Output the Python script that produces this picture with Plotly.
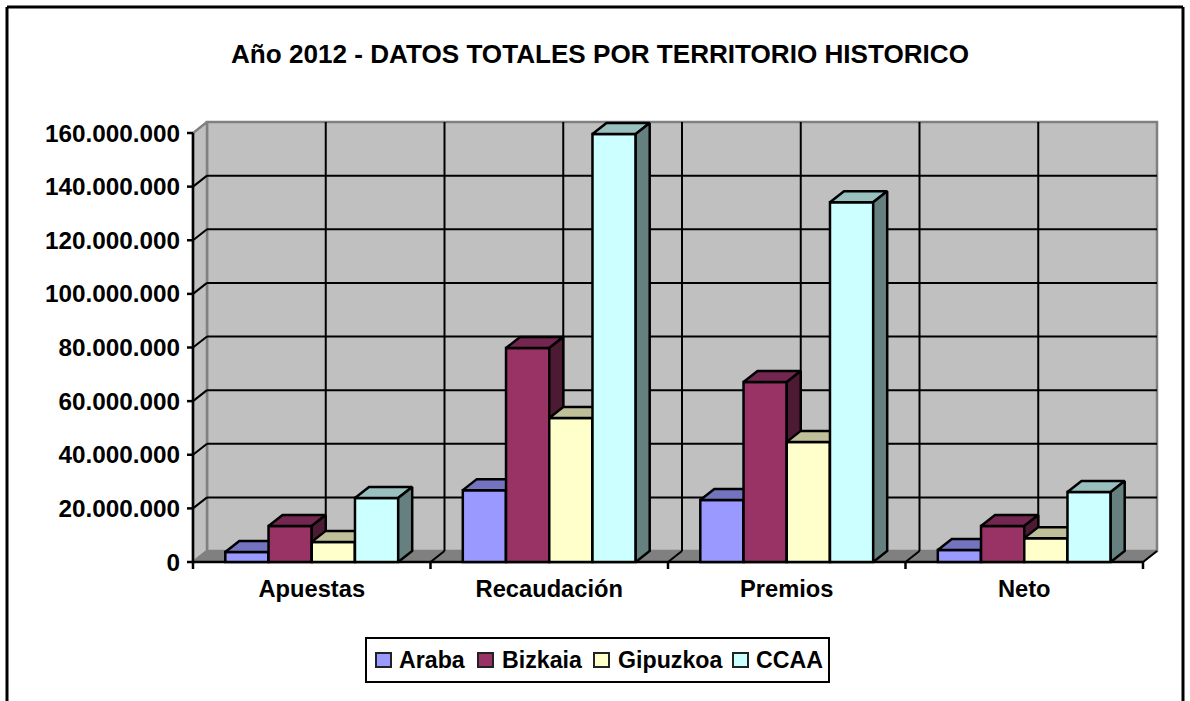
"""Año 2012 - datos totales por territorio historico (barras con efecto 3D)."""

import numpy as np
import plotly.graph_objects as go

categories = ["Apuestas", "Recaudación", "Premios", "Neto"]
series_names = ["Araba", "Bizkaia", "Gipuzkoa", "CCAA"]

araba = [3700000, 26800000, 23100000, 4500000]
bizkaia = [13400000, 79800000, 67100000, 13400000]
gipuzkoa = [7500000, 53700000, 44800000, 8900000]
ccaa = [23900000, 159600000, 134200000, 26100000]

y_ticks = [0, 20000000, 40000000, 60000000, 80000000, 100000000, 120000000, 140000000, 160000000]

series_values = [araba, bizkaia, gipuzkoa, ccaa]

# front, top, side
colors = [
    ("#9999FF", "#7373BF", "#4D4D80"),
    ("#993366", "#732650", "#4D1A33"),
    ("#FFFFCC", "#BFBF99", "#808066"),
    ("#CCFFFF", "#99BFBF", "#668080"),
]

W, H = 1190, 701
FONT = "Liberation Sans"
# plano frontal en pixeles
LEFT, RIGHT, TOP, BOTTOM = 193, 1143, 133, 562
# area de dibujo completa, con sitio para la profundidad y las marcas
AREA_L, AREA_R, AREA_T, AREA_B = 186, 1165, 115, 571
Y_MAX = 160000000
N = len(categories)
CAT_PX = (RIGHT - LEFT) / N
VAL_PX = (BOTTOM - TOP) / Y_MAX
DX = 14 / CAT_PX
DY = 11 / VAL_PX
TICK_X = 6 / CAT_PX
TICK_Y = 7 / VAL_PX
BAR_W = 0.182
centers = np.arange(N) + 0.5

x_range = [(AREA_L - LEFT) / CAT_PX, (AREA_R - LEFT) / CAT_PX]
y_range = [(BOTTOM - AREA_B) / VAL_PX, (BOTTOM - AREA_T) / VAL_PX]


def px(x):
    return x / W


def py(y):
    return 1 - y / H


def poly(points, fill, line="black", width=2.5, xaxis="x", yaxis="y"):
    xs = [p[0] for p in points] + [points[0][0]]
    ys = [p[1] for p in points] + [points[0][1]]
    return go.Scatter(
        x=xs,
        y=ys,
        mode="lines",
        fill="toself",
        fillcolor=fill,
        line=dict(color=line, width=width),
        showlegend=False,
        hoverinfo="skip",
        xaxis=xaxis,
        yaxis=yaxis,
    )


def lines(segments, color="black", width=2):
    xs, ys = [], []
    for (x0, y0), (x1, y1) in segments:
        xs += [x0, x1, None]
        ys += [y0, y1, None]
    return go.Scatter(
        x=xs,
        y=ys,
        mode="lines",
        line=dict(color=color, width=width),
        showlegend=False,
        hoverinfo="skip",
    )


fig = go.Figure()

# paredes y suelo
fig.add_trace(poly([(DX, DY), (N + DX, DY), (N + DX, Y_MAX + DY), (DX, Y_MAX + DY)], "#C0C0C0", "#808080", 2.5))
fig.add_trace(poly([(0, 0), (DX, DY), (DX, Y_MAX + DY), (0, Y_MAX)], "#C0C0C0", "#808080", 2.5))
fig.add_trace(poly([(0, 0), (N, 0), (N + DX, DY), (DX, DY)], "#808080", "#808080", 2))

grid = [((DX, v + DY), (N + DX, v + DY)) for v in y_ticks[1:-1]]
grid += [((k / 2 + DX, DY), (k / 2 + DX, Y_MAX + DY)) for k in range(1, 2 * N)]
grid += [((0, v), (DX, v + DY)) for v in y_ticks[1:-1]]
grid += [((k, 0), (k + DX, DY)) for k in range(1, N + 1)]
fig.add_trace(lines(grid))

# ejes con sus marcas
axis_marks = [((0, 0), (0, Y_MAX)), ((0, 0), (N, 0))]
axis_marks += [((-TICK_X, v), (0, v)) for v in y_ticks]
axis_marks += [((k, 0), (k, -TICK_Y)) for k in range(N + 1)]
fig.add_trace(lines(axis_marks, width=2.5))

# una pareja de ejes por serie para pintar de izquierda a derecha
for i, (name, values, (front, top, side)) in enumerate(zip(series_names, series_values, colors)):
    ax = str(i + 2)
    offset = (i - 2) * BAR_W
    fig.add_trace(
        go.Bar(
            x=centers,
            y=values,
            name=name,
            width=BAR_W,
            offset=offset,
            marker=dict(color=front, line=dict(color="black", width=2.5)),
            showlegend=False,
            xaxis="x" + ax,
            yaxis="y" + ax,
        )
    )
    for c, v in zip(centers, values):
        x0, x1 = c + offset, c + offset + BAR_W
        fig.add_trace(
            poly([(x0, v), (x1, v), (x1 + DX, v + DY), (x0 + DX, v + DY)], top, xaxis="x" + ax, yaxis="y" + ax)
        )
        fig.add_trace(
            poly([(x1, 0), (x1 + DX, DY), (x1 + DX, v + DY), (x1, v)], side, xaxis="x" + ax, yaxis="y" + ax)
        )

domain_x = [px(AREA_L), px(AREA_R)]
domain_y = [py(AREA_B), py(AREA_T)]

fig.update_layout(
    width=W,
    height=H,
    margin=dict(l=0, r=0, t=0, b=0),
    paper_bgcolor="white",
    plot_bgcolor="rgba(0,0,0,0)",
    separators=",.",
    font=dict(family=FONT, color="black"),
    showlegend=False,
    title=dict(
        text="Año 2012 - DATOS TOTALES POR TERRITORIO HISTORICO",
        x=px(600),
        xanchor="center",
        y=py(54),
        yanchor="middle",
        font=dict(family=FONT, size=26.1, weight="bold", color="black"),
    ),
    xaxis=dict(
        domain=domain_x,
        range=x_range,
        tickmode="array",
        tickvals=centers,
        ticktext=categories,
        ticks="",
        showgrid=False,
        zeroline=False,
        showline=False,
        automargin=False,
        ticklabelstandoff=1,
        tickfont=dict(family=FONT, size=23.7, weight="bold", color="black"),
    ),
    yaxis=dict(
        domain=domain_y,
        range=y_range,
        tickmode="array",
        tickvals=y_ticks,
        tickformat=",d",
        ticks="",
        showgrid=False,
        zeroline=False,
        showline=False,
        automargin=False,
        ticklabelstandoff=5,
        tickfont=dict(family=FONT, size=24.3, weight="bold", color="black"),
    ),
)

for i in range(len(series_names)):
    ax = str(i + 2)
    fig.update_layout(
        {
            "xaxis" + ax: dict(domain=domain_x, range=x_range, overlaying="x", anchor="y" + ax, visible=False),
            "yaxis" + ax: dict(domain=domain_y, range=y_range, overlaying="y", anchor="x" + ax, visible=False),
        }
    )

# marco exterior
for x0, y0, x1, y1 in [(7, 7, 1183, 7), (7, 7, 7, 701), (1183, 7, 1183, 701)]:
    fig.add_shape(
        type="line", xref="paper", yref="paper", x0=px(x0), y0=py(y0), x1=px(x1), y1=py(y1),
        line=dict(color="black", width=3),
    )

# leyenda
fig.add_shape(
    type="rect", xref="paper", yref="paper", x0=px(366), y0=py(638), x1=px(829), y1=py(682),
    fillcolor="white", line=dict(color="black", width=2),
)
legend_square_x = [376, 478, 594, 733]
legend_text_x = [399, 502, 618, 756]
for name, sq, tx, (front, _, _) in zip(series_names, legend_square_x, legend_text_x, colors):
    fig.add_shape(
        type="rect", xref="paper", yref="paper", x0=px(sq), y0=py(653), x1=px(sq + 15), y1=py(667),
        fillcolor=front, line=dict(color="#222222", width=2),
    )
    fig.add_annotation(
        text=name, xref="paper", yref="paper", x=px(tx), y=py(660), xanchor="left", yanchor="middle",
        showarrow=False, xshift=-2,
        font=dict(family=FONT, size=23.2, weight="bold", color="black"),
    )

fig.write_html(
    "out.html",
    config={"displayModeBar": False},
    post_script="document.body.style.margin='0';",
)
